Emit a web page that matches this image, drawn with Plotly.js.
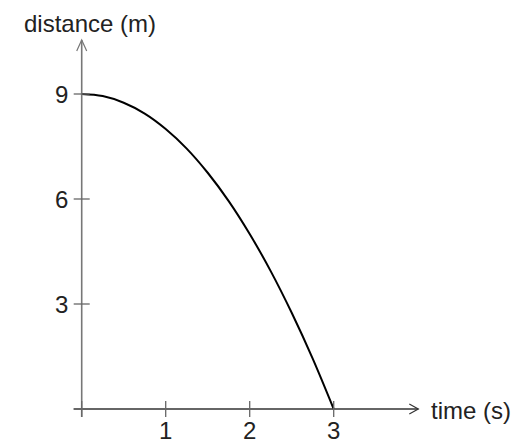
<!DOCTYPE html>
<html>
<head>
<meta charset="utf-8">
<script src="https://cdn.plot.ly/plotly-3.0.1.min.js"></script>
<style>
  html, body { margin: 0; padding: 0; background: #fff; }
  #chart { width: 515px; height: 439px; }
</style>
</head>
<body>
<div id="chart"></div>
<script>
// Distance of a falling object over time
const timeS = [0, 0.25, 0.5, 0.75, 1, 1.25, 1.5, 1.75, 2, 2.25, 2.5, 2.75, 3];
const distanceM = [9, 8.94, 8.75, 8.44, 8, 7.44, 6.75, 5.94, 5, 3.94, 2.75, 1.44, 0];

const xTickVals = [0, 1, 2, 3];
const xTickText = ['', '1', '2', '3'];
const yTickVals = [0, 3, 6, 9];
const yTickText = ['', '3', '6', '9'];

const xTitle = 'time (s)';
const yTitle = 'distance (m)';

// Pixel geometry of the hand-drawn axes
const W = 515, H = 439;
const ORIGIN_PX = { x: 81.7, y: 409 };
const PX_PER_X = 84;
const PX_PER_Y = 35;
const X_AXIS_LEN = 336.6;   // from origin to arrow tip
const Y_AXIS_LEN = 369;
const TICK_HALF = 8;

const FONT = 'Liberation Sans, Arial, Helvetica, sans-serif';
const AXIS_X_COLOR = '#333333';
const AXIS_Y_COLOR = '#777777';
const TICK_COLOR = '#666666';

const xRange = [-ORIGIN_PX.x / PX_PER_X, (W - ORIGIN_PX.x) / PX_PER_X];
const yRange = [-(H - ORIGIN_PX.y) / PX_PER_Y, ORIGIN_PX.y / PX_PER_Y];

const shapes = [];

// x axis line with open arrow head
shapes.push({
  type: 'line', xref: 'x', yref: 'y',
  xsizemode: 'pixel', xanchor: 0, x0: -TICK_HALF, x1: X_AXIS_LEN,
  y0: 0, y1: 0,
  line: { color: AXIS_X_COLOR, width: 1.3 }
});
shapes.push({
  type: 'path', xref: 'x', yref: 'y',
  xsizemode: 'pixel', xanchor: 0, ysizemode: 'pixel', yanchor: 0,
  path: `M ${X_AXIS_LEN - 9} 5 L ${X_AXIS_LEN} 0 L ${X_AXIS_LEN - 9} -5`,
  line: { color: AXIS_X_COLOR, width: 1.2 }
});

// y axis line with open arrow head
shapes.push({
  type: 'line', xref: 'x', yref: 'y',
  ysizemode: 'pixel', yanchor: 0, y0: -TICK_HALF, y1: Y_AXIS_LEN,
  x0: 0, x1: 0,
  line: { color: AXIS_Y_COLOR, width: 1.6 }
});
shapes.push({
  type: 'path', xref: 'x', yref: 'y',
  xsizemode: 'pixel', xanchor: 0, ysizemode: 'pixel', yanchor: 0,
  path: `M -5 ${Y_AXIS_LEN - 11} L 0 ${Y_AXIS_LEN} L 5 ${Y_AXIS_LEN - 11}`,
  line: { color: AXIS_Y_COLOR, width: 1.2 }
});

// tick marks crossing the axes
xTickVals.forEach(v => shapes.push({
  type: 'line', xref: 'x', yref: 'y',
  x0: v, x1: v, ysizemode: 'pixel', yanchor: 0, y0: -TICK_HALF, y1: TICK_HALF,
  line: { color: TICK_COLOR, width: 1.3 }
}));
yTickVals.forEach(v => shapes.push({
  type: 'line', xref: 'x', yref: 'y',
  y0: v, y1: v, xsizemode: 'pixel', xanchor: 0, x0: -TICK_HALF, x1: TICK_HALF,
  line: { color: TICK_COLOR, width: 1.3 }
}));

const annotations = [];
const tickFont = { family: FONT, size: 24, color: '#222' };
xTickVals.forEach((v, i) => {
  if (!xTickText[i]) return;
  annotations.push({
    xref: 'x', yref: 'y', x: v, y: 0, yshift: -21,
    text: xTickText[i], showarrow: false,
    xanchor: 'center', yanchor: 'middle', font: tickFont
  });
});
yTickVals.forEach((v, i) => {
  if (!yTickText[i]) return;
  annotations.push({
    xref: 'x', yref: 'y', x: 0, y: v, xshift: -20,
    text: yTickText[i], showarrow: false,
    xanchor: 'center', yanchor: 'middle', font: tickFont
  });
});

const titleFont = { family: FONT, size: 24, color: '#222' };
annotations.push({
  xref: 'x', yref: 'y', x: 0, y: 0, xshift: 347.6, yshift: -1,
  text: xTitle, showarrow: false, xanchor: 'left', yanchor: 'middle', font: titleFont
});
annotations.push({
  xref: 'x', yref: 'y', x: 0, y: 0, xshift: 8, yshift: 386,
  text: yTitle, showarrow: false, xanchor: 'center', yanchor: 'middle', font: titleFont
});

const trace = {
  x: timeS, y: distanceM,
  type: 'scatter', mode: 'lines',
  line: { color: '#000', width: 2, shape: 'spline', smoothing: 1 },
  hoverinfo: 'skip'
};

const hiddenAxis = {
  visible: false, showgrid: false, zeroline: false, fixedrange: true
};

const layout = {
  width: W, height: H,
  margin: { l: 0, r: 0, t: 0, b: 0, pad: 0 },
  paper_bgcolor: '#fff', plot_bgcolor: '#fff',
  showlegend: false,
  xaxis: Object.assign({ range: xRange }, hiddenAxis),
  yaxis: Object.assign({ range: yRange }, hiddenAxis),
  shapes: shapes,
  annotations: annotations
};

Plotly.newPlot('chart', [trace], layout, { displayModeBar: false, staticPlot: true });
</script>
</body>
</html>
